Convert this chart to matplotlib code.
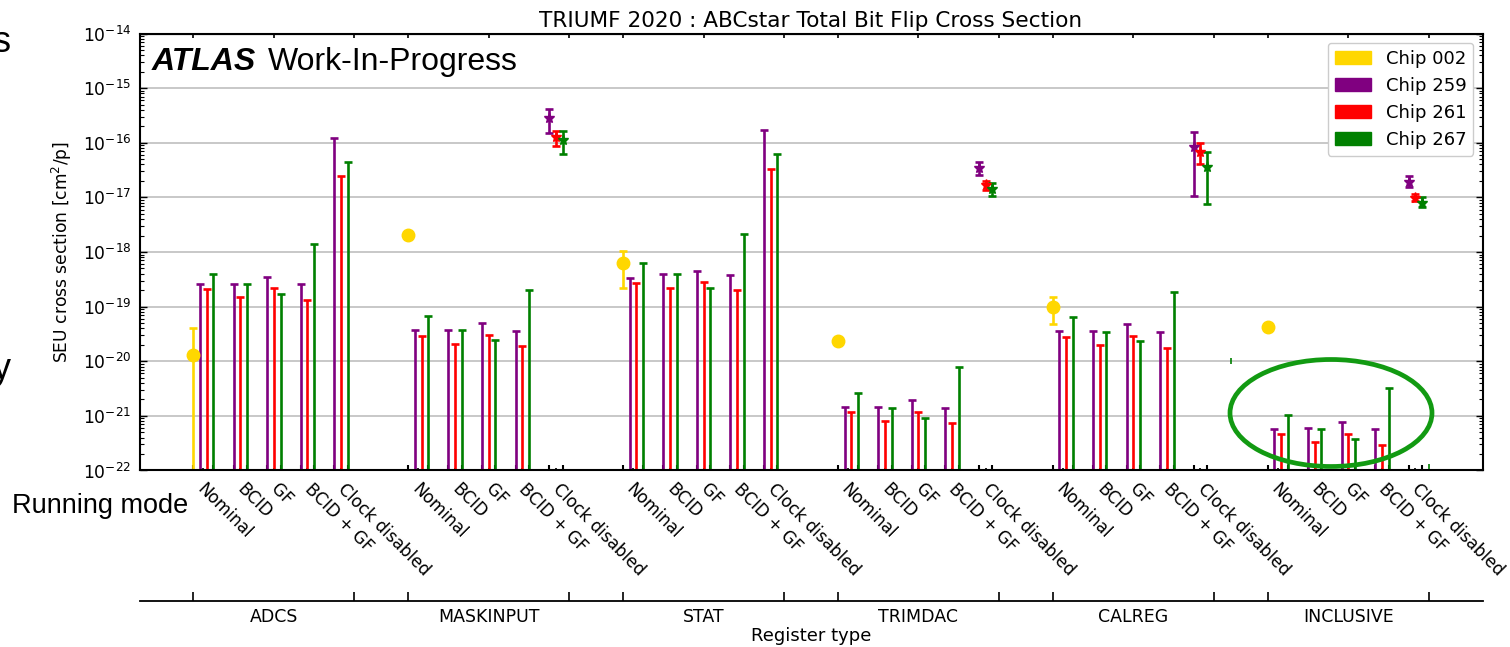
import numpy as np
import matplotlib
matplotlib.use('Agg')
import matplotlib.pyplot as plt
from matplotlib.patches import Patch, Ellipse
from matplotlib.ticker import LogLocator, NullFormatter

nan = np.nan

#################################################
# DATA
#################################################
registers = ['ADCS', 'MASKINPUT', 'STAT', 'TRIMDAC', 'CALREG', 'INCLUSIVE']
modes = ['Nominal', 'BCID', 'GF', 'BCID + GF', 'Clock disabled']
chips = ['Chip 002', 'Chip 259', 'Chip 261', 'Chip 267']
colors = ['gold', 'purple', 'red', 'green']

# chip 002 : nominal mode only (value, lower, upper)
chip002_val = [1.32e-20, 2.07e-18, 6.3e-19, 2.38e-20, 9.85e-20, 4.19e-20]
chip002_lo = [1e-23, nan, 2.19e-19, nan, 4.75e-20, nan]
chip002_hi = [4.0e-20, nan, 1.04e-18, nan, 1.5e-19, nan]

# upper limits, rows = register, cols = running mode (nan -> measured)
ul_259 = [[2.6e-19, 2.6e-19, 3.5e-19, 2.57e-19, 1.24e-16],
          [3.69e-20, 3.7e-20, 5.0e-20, 3.63e-20, nan],
          [3.34e-19, 3.96e-19, 4.55e-19, 3.8e-19, 1.71e-16],
          [1.44e-21, 1.44e-21, 1.95e-21, 1.39e-21, nan],
          [3.53e-20, 3.53e-20, 4.75e-20, 3.43e-20, nan],
          [5.8e-22, 6.0e-22, 7.8e-22, 5.75e-22, nan]]
ul_261 = [[2.1e-19, 1.48e-19, 2.17e-19, 1.34e-19, 2.5e-17],
          [2.94e-20, 2.1e-20, 3.06e-20, 1.88e-20, nan],
          [2.71e-19, 2.22e-19, 2.79e-19, 1.99e-19, 3.27e-17],
          [1.16e-21, 8.1e-22, 1.18e-21, 7.3e-22, nan],
          [2.82e-20, 1.96e-20, 2.9e-20, 1.75e-20, nan],
          [4.66e-22, 3.3e-22, 4.7e-22, 2.9e-22, nan]]
ul_267 = [[4.0e-19, 2.6e-19, 1.73e-19, 1.42e-18, 4.45e-17],
          [6.74e-20, 3.69e-20, 2.45e-20, 2.02e-19, nan],
          [6.3e-19, 3.95e-19, 2.22e-19, 2.14e-18, 6.3e-17],
          [2.66e-21, 1.41e-21, 9.3e-22, 7.75e-21, nan],
          [6.38e-20, 3.5e-20, 2.35e-20, 1.88e-19, nan],
          [1.05e-21, 5.8e-22, 3.8e-22, 3.2e-21, nan]]

# clock disabled measurements per register (value, lower, upper)
cd_259 = [nan, 2.8e-16, nan, 3.5e-17, 8.5e-17, 1.94e-17]
cd_259_lo = [nan, 1.49e-16, nan, 2.57e-17, 1.05e-17, 1.57e-17]
cd_259_hi = [nan, 4.15e-16, nan, 4.39e-17, 1.57e-16, 2.43e-17]
cd_261 = [nan, 1.29e-16, nan, 1.66e-17, 6.87e-17, 9.9e-18]
cd_261_lo = [nan, 8.6e-17, nan, 1.37e-17, 4.04e-17, 8.7e-18]
cd_261_hi = [nan, 1.64e-16, nan, 2.0e-17, 9.8e-17, 1.15e-17]
cd_267 = [nan, 1.12e-16, nan, 1.44e-17, 3.65e-17, 8.0e-18]
cd_267_lo = [nan, 6.15e-17, nan, 1.07e-17, 7.5e-18, 6.6e-18]
cd_267_hi = [nan, 1.64e-16, nan, 1.86e-17, 6.7e-17, 1.0e-17]

# leftover single points
stray_x = [154.6, 184.1]
stray_y = [1.02e-20, 1.18e-22]

#################################################
# LAYOUT
#################################################
group_step = 32
mode_step = 5
floor = 1e-23

def xpos(g, m, c):
    return g * group_step + m * mode_step + c

fig = plt.figure(figsize=(15.1, 6.47), dpi=100)
ax = fig.add_axes([0.0924, 0.2728, 0.8894, 0.6754])

ax.set_yscale('log')
ax.set_xlim(-8, 192)
ax.set_ylim(1e-22, 1e-14)
ax.grid(axis='y', which='major', color='#c4c4c4', lw=1.3)
ax.set_axisbelow(True)

# upper limits
for c, ul in zip([1, 2, 3], [ul_259, ul_261, ul_267]):
    ul = np.array(ul)
    xs, ys = [], []
    for g in range(len(registers)):
        for m in range(len(modes)):
            if not np.isnan(ul[g, m]):
                xs.append(xpos(g, m, c))
                ys.append(ul[g, m])
    ys = np.array(ys)
    ax.errorbar(xs, ys, yerr=[ys - floor, np.zeros_like(ys)], fmt='none',
                ecolor=colors[c], elinewidth=1.9, capsize=3, capthick=1.9)

# clock disabled measurements
for c, (v, lo, hi) in zip([1, 2, 3], [(cd_259, cd_259_lo, cd_259_hi),
                                      (cd_261, cd_261_lo, cd_261_hi),
                                      (cd_267, cd_267_lo, cd_267_hi)]):
    v, lo, hi = np.array(v), np.array(lo), np.array(hi)
    ok = ~np.isnan(v)
    xs = [xpos(g, 4, c) for g in range(len(registers)) if ok[g]]
    ax.errorbar(xs, v[ok], yerr=[v[ok] - lo[ok], hi[ok] - v[ok]], fmt='*',
                color=colors[c], ms=8, elinewidth=1.9, capsize=3, capthick=1.9)

# chip 002
v = np.array(chip002_val)
lo = np.array(chip002_lo)
hi = np.array(chip002_hi)
lo = np.where(np.isnan(lo), v, lo)
hi = np.where(np.isnan(hi), v, hi)
xs = [xpos(g, 0, 0) for g in range(len(registers))]
ax.errorbar(xs, v, yerr=[v - lo, hi - v], fmt='o', color=colors[0], ms=9,
            elinewidth=1.9, capsize=3, capthick=1.9)

ax.plot(stray_x, stray_y, ls='none', marker='|', color='green', ms=5, mew=1.2)

# running mode ticks: edges of each chip cluster, centre as minor
major_pos, major_lbl, minor_pos = [], [], []
for g in range(len(registers)):
    for m, mode in enumerate(modes):
        first = 0 if m == 0 else 1
        major_pos += [xpos(g, m, first), xpos(g, m, 3)]
        major_lbl += [mode, '']
        minor_pos.append(xpos(g, m, (first + 3) / 2))
ax.set_xticks(major_pos)
ax.set_xticklabels(major_lbl, rotation=-45, ha='left', fontsize=12.2)
ax.set_xticks(minor_pos, minor=True)
ax.tick_params(axis='x', which='major', direction='in', length=3.6, width=1.5,
               top=False, pad=7)
ax.tick_params(axis='x', which='minor', direction='in', length=1.8, width=1.2,
               top=False)
for lbl in ax.get_xticklabels():
    lbl.set_x(lbl.get_position()[0])

ax.set_yticks(10.0 ** np.arange(-22, -13))
ax.yaxis.set_minor_locator(LogLocator(base=10, subs=np.arange(2, 10), numticks=100))
ax.yaxis.set_minor_formatter(NullFormatter())
ax.tick_params(axis='y', which='major', direction='in', length=5, width=1,
               left=True, right=True, labelsize=12.3, pad=6)
ax.tick_params(axis='y', which='minor', direction='in', length=2.8, width=0.8,
               left=True, right=True)
for s in ax.spines.values():
    s.set_linewidth(1.5)

ax.set_ylabel(r'SEU cross section [cm$^2$/p]', fontsize=12.3, labelpad=6)
ax.set_title('TRIUMF 2020 : ABCstar Total Bit Flip Cross Section', fontsize=15.6, pad=5)

# register type axis
edges, centres = [], []
for g in range(len(registers)):
    edges += [g * group_step, g * group_step + 24]
    centres.append(g * group_step + 12)

ax2 = ax.twiny()
ax2.set_xlim(ax.get_xlim())
for s in ['top', 'left', 'right']:
    ax2.spines[s].set_visible(False)
ax2.spines['bottom'].set_visible(True)
ax2.spines['bottom'].set_position(('outward', 94))
ax2.spines['bottom'].set_linewidth(1.3)
ax2.xaxis.set_ticks_position('bottom')
ax2.xaxis.set_label_position('bottom')
ax2.set_xticks(edges)
ax2.set_xticklabels([])
ax2.set_xticks(centres, minor=True)
ax2.set_xticklabels(registers, minor=True, fontsize=12.5)
ax2.tick_params(which='major', direction='in', length=6.5, width=1.2)
ax2.tick_params(which='minor', length=0, pad=5)
ax2.set_xlabel('Register type', fontsize=13, labelpad=1)

top = ax.secondary_xaxis('top')
top.set_xticks(edges + centres)
top.set_xticklabels([])
top.tick_params(direction='in', length=3, width=1.2)

# legend
handles = [Patch(color=c) for c in colors]
ax.legend(handles, chips, loc='upper right', fontsize=13, framealpha=1,
          edgecolor='#cccccc')

# labels
t = ax.text(0.0093, 0.9165, 'ATLAS', transform=ax.transAxes, fontsize=23,
            fontweight='bold', fontstyle='italic', family='Liberation Sans',
            va='baseline')
ax.annotate('Work-In-Progress', xy=(1, 0), xycoords=t, xytext=(8, 0),
            textcoords='offset points', fontsize=23,
            family='Liberation Sans', va='bottom')

fig.text(12 / 1510, 1 - 506 / 647, 'Running mode', fontsize=19.5,
         family='Liberation Sans', va='center')
fig.text(-7 / 1510, 1 - 43 / 647, 's', fontsize=26, family='Liberation Sans', va='center')
fig.text(-7 / 1510, 1 - 379 / 647, 'y', fontsize=26, family='Liberation Sans', va='baseline')

fig.patches.append(Ellipse((1331 / 1510, 1 - 413 / 647), 202 / 1510, 107 / 647,
                           transform=fig.transFigure, fill=False,
                           edgecolor='#129a12', lw=3.4))

plt.savefig('out.png', dpi=100)
